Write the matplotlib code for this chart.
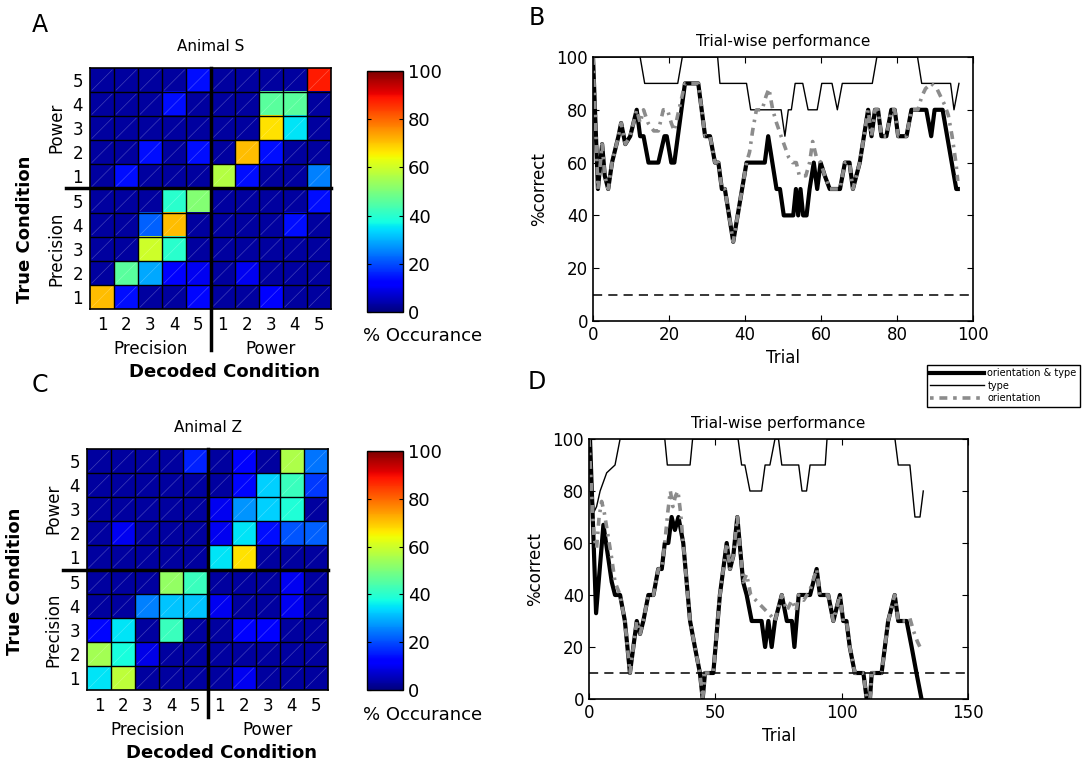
import numpy as np
import matplotlib
matplotlib.use('Agg')
import matplotlib.pyplot as plt
from matplotlib.lines import Line2D

plt.rcParams['font.family'] = ['DejaVu Sans']

# Confusion matrices (% occurance); rows from top: Power 5..1, Precision 5..1
# columns: Precision 1..5, Power 1..5
animal_s = [
    [3, 3, 3, 3, 14, 3, 3, 3, 3, 88],
    [3, 3, 3, 14, 3, 3, 3, 46, 46, 3],
    [3, 3, 3, 3, 3, 3, 3, 67, 35, 3],
    [3, 3, 14, 3, 14, 3, 71, 14, 3, 3],
    [3, 14, 3, 3, 3, 57, 14, 3, 3, 25],
    [3, 3, 3, 40, 51, 3, 3, 3, 3, 14],
    [3, 3, 22, 71, 3, 3, 3, 3, 14, 3],
    [3, 3, 60, 40, 3, 3, 3, 3, 3, 3],
    [3, 46, 29, 12, 10, 3, 10, 3, 3, 3],
    [71, 14, 3, 3, 13, 3, 3, 12, 3, 3],
]
animal_z = [
    [3, 3, 3, 3, 16, 3, 11, 3, 56, 24],
    [3, 3, 3, 3, 3, 3, 13, 33, 42, 18],
    [3, 3, 3, 3, 3, 10, 27, 33, 39, 3],
    [3, 10, 3, 3, 3, 10, 35, 14, 21, 22],
    [3, 3, 3, 3, 3, 35, 67, 3, 3, 3],
    [3, 3, 3, 53, 42, 3, 3, 3, 10, 3],
    [3, 3, 25, 32, 32, 10, 3, 3, 10, 3],
    [13, 35, 3, 42, 3, 3, 12, 12, 3, 3],
    [55, 38, 9, 3, 3, 3, 3, 3, 3, 3],
    [35, 58, 3, 3, 3, 3, 10, 3, 3, 3],
]
cond_labels = ['1', '2', '3', '4', '5', '1', '2', '3', '4', '5']

# Trial-wise performance, (trial, % correct) breakpoints
b_both = [(0, 100), (1.3, 50), (2.4, 67), (3.1, 55), (4, 50), (5, 60), (6.7, 70), (7.4, 75),
          (8.5, 67), (9.8, 70), (11.5, 80), (12.4, 70), (13.3, 70), (14.6, 60), (17.2, 60),
          (18.8, 70), (19.4, 70), (20.6, 60), (21.4, 60), (24.2, 90), (27.7, 90), (29.5, 70),
          (30.8, 70), (32.1, 60), (33, 60), (33.9, 50), (34.7, 50), (36.9, 30), (40.4, 60),
          (45.2, 60), (46.1, 70), (48.3, 50), (49.2, 50), (50.2, 40), (52.7, 40), (53.4, 50),
          (54, 40), (54.6, 50), (55.3, 40), (56.2, 40), (57, 50), (58.1, 60), (59, 50),
          (59.9, 60), (61, 55), (62.3, 50), (65, 50), (66.3, 60), (67.5, 60), (68.4, 50),
          (70.2, 60), (72.4, 80), (73.3, 70), (74.2, 80), (75, 80), (75.9, 70), (77.2, 70),
          (78.5, 80), (79.4, 80), (80.3, 70), (82.5, 70), (83.8, 80), (87.7, 80), (89, 70),
          (89.9, 80), (92, 80), (95.6, 50), (96, 50)]
b_type = [(0, 100), (12.4, 100), (13.6, 90), (22.3, 90), (23.5, 100), (32.8, 100), (33.4, 90),
          (40.4, 90), (41.5, 80), (49.5, 80), (50.5, 70), (51.4, 80), (52.2, 80), (53.2, 90),
          (55.2, 90), (56.6, 80), (59, 80), (60.2, 90), (62.9, 90), (64.3, 80), (65.6, 90),
          (73.5, 90), (74.7, 100), (85.4, 100), (86.5, 90), (94.1, 90), (95, 80), (96.3, 90)]
b_orient = [(0, 100), (1.3, 50), (2.4, 67), (3.1, 55), (4, 50), (5, 60), (6.7, 70), (7.4, 75),
            (8.5, 67), (9.8, 70), (11.5, 80), (12.4, 75), (13.3, 80), (14.5, 75), (16, 72),
            (17.2, 72), (18.5, 80), (19.6, 80), (20.6, 75), (21.4, 72), (22.3, 78), (24.2, 90),
            (27.7, 90), (29.5, 70), (30.8, 70), (32.1, 60), (33, 60), (33.9, 50), (34.7, 50),
            (36.9, 30), (40.4, 60), (41.2, 64), (42, 72), (43, 80), (44.5, 80), (45.5, 85),
            (46.3, 88), (47.3, 80), (48.3, 75), (49.5, 70), (50.5, 66), (51.5, 62), (52.5, 60),
            (53.5, 60), (54.3, 55), (56, 55), (57, 60), (57.8, 68), (58.8, 62), (59.9, 60),
            (61, 55), (62.3, 50), (65, 50), (66.3, 60), (67.5, 60), (68.4, 50), (70.2, 60),
            (72.4, 80), (73.3, 70), (74.2, 80), (75, 80), (75.9, 70), (77.2, 70), (78.5, 80),
            (79.4, 80), (80.3, 70), (82.5, 70), (83.8, 80), (85.5, 80), (86.5, 85), (87.5, 88),
            (89, 90), (90.5, 88), (91.5, 85), (92.5, 82), (93.5, 78), (94.5, 70), (95.5, 60),
            (96, 53)]

d_both = [(0.4, 100), (2.8, 33), (5.7, 67), (9, 45), (10.3, 40), (12.3, 40), (14.2, 30),
          (16.2, 10), (18.9, 30), (20.2, 25), (21.5, 30), (23.5, 40), (25.5, 40), (27.4, 50),
          (28.8, 50), (30, 60), (31.4, 60), (32.7, 70), (34, 65), (35.4, 70), (37.3, 60),
          (40, 30), (41.9, 20), (43.9, 10), (45, 0), (45.9, 10), (49.2, 10), (51.8, 40),
          (54.5, 60), (55.8, 50), (57.1, 55), (58.7, 70), (61, 45), (62.4, 40), (64.4, 30),
          (68.3, 30), (69.7, 20), (71, 30), (72.3, 20), (73.6, 30), (76.3, 40), (78.3, 30),
          (80.3, 30), (81.3, 20), (83, 40), (87.5, 40), (90.1, 50), (91.4, 40), (94.7, 40),
          (96.7, 30), (99.3, 40), (100.6, 30), (101.9, 30), (103.2, 20), (105.2, 10),
          (108.6, 10), (109.9, 0), (111.2, 0), (111.9, 10), (115.8, 10), (118.4, 30),
          (121, 40), (122.4, 30), (125.7, 30), (127.7, 20), (129.6, 10), (131.6, 0)]
d_type = [(0, 100), (1, 85), (2, 72), (3, 74), (4.4, 80), (7, 87), (10.3, 90), (12.3, 100),
          (30, 100), (31, 90), (40, 90), (41, 100), (59, 100), (60.4, 90), (61.7, 90),
          (63.7, 80), (68.3, 80), (69.7, 90), (71.6, 90), (73.6, 100), (75, 100), (76.3, 90),
          (83, 90), (84.3, 80), (86.1, 80), (87.5, 90), (93.5, 90), (94.2, 100), (121.1, 100),
          (122.4, 90), (127, 90), (129, 70), (131, 70), (132.3, 80)]
d_orient = [(0, 100), (1, 80), (2, 62), (3, 58), (4, 70), (5, 76), (6, 72), (7, 66), (8, 60),
            (9, 54), (10.3, 45), (12.3, 40), (14.2, 30), (16.2, 10), (18.9, 30), (20.2, 25),
            (21.5, 30), (23.5, 40), (25.5, 40), (27.4, 50), (28.8, 50), (30, 60), (31.2, 72),
            (32.2, 80), (33.2, 74), (34.2, 78), (35.2, 80), (36.2, 72), (37.3, 60), (40, 30),
            (41.9, 20), (43.9, 10), (45, 0), (45.9, 10), (49.2, 10), (51.8, 40), (54.5, 60),
            (55.8, 50), (57.1, 55), (58.7, 70), (61, 45), (62.4, 48), (64, 40), (66, 38),
            (68, 36), (70, 34), (72, 32), (73.6, 30), (76.3, 40), (78.3, 34), (80.3, 38),
            (82, 34), (83, 40), (85, 38), (87.5, 42), (90.1, 50), (91.4, 40), (94.7, 40),
            (96.7, 30), (99.3, 40), (100.6, 30), (101.9, 30), (103.2, 20), (105.2, 10),
            (108.6, 10), (109.9, 0), (111.2, 0), (111.9, 10), (115.8, 10), (118.4, 30),
            (121, 40), (122.4, 30), (125.7, 30), (127, 31), (128.5, 26), (130, 22), (131, 20)]
chance = 10

W, H = 1088, 762
fig = plt.figure(figsize=(W / 100, H / 100), dpi=100)


def px_axes(x0, y0, x1, y1):
    return fig.add_axes([x0 / W, 1 - y1 / H, (x1 - x0) / W, (y1 - y0) / H])


def confusion(ax, cax, mat, title, tc_x, tc_y, vline_len):
    m = np.array(mat, dtype=float)
    im = ax.imshow(m, cmap='jet', vmin=0, vmax=100, extent=(0, 10, 0, 10),
                   origin='upper', interpolation='nearest')
    # faint diagonal artefacts in each cell
    for i in range(10):
        for j in range(10):
            ax.plot([j + 0.08, j + 0.92], [i + 0.08, i + 0.92], color='white',
                    lw=0.5, alpha=0.25)
    for k in range(1, 10):
        ax.axvline(k, color='black', lw=1.0)
        ax.axhline(k, color='black', lw=1.0)
    ax.plot([5, 5], [10, -vline_len], color='black', lw=2.5, clip_on=False)
    ax.plot([-1, 10], [5, 5], color='black', lw=2.5, clip_on=False)
    ax.set_xlim(0, 10)
    ax.set_ylim(0, 10)
    ax.set_xticks(np.arange(10) + 0.5)
    ax.set_xticklabels(cond_labels)
    ax.set_yticks(np.arange(10) + 0.5)
    ax.set_yticklabels(cond_labels)
    ax.tick_params(length=0, labelsize=12, pad=5)
    for s in ax.spines.values():
        s.set_linewidth(1.2)
    ax.set_title(title, fontsize=11, pad=12)
    ax.text(2.5, -1.65, 'Precision', ha='center', va='center', fontsize=12)
    ax.text(7.5, -1.65, 'Power', ha='center', va='center', fontsize=12)
    ax.text(5.6, -2.6, 'Decoded Condition', ha='center', va='center', fontsize=13,
            fontweight='bold')
    ax.text(-1.4, 2.5, 'Precision', ha='center', va='center', rotation=90, fontsize=12)
    ax.text(-1.4, 7.5, 'Power', ha='center', va='center', rotation=90, fontsize=12)
    ax.text(tc_x, tc_y, 'True Condition', ha='center', va='center', rotation=90,
            fontsize=13, fontweight='bold')
    cb = fig.colorbar(im, cax=cax)
    cb.set_ticks([0, 20, 40, 60, 80, 100])
    cb.ax.tick_params(labelsize=13, direction='in', length=3, left=True, right=True)
    cb.outline.set_linewidth(1.0)
    return cb


def performance(ax, both, typ, orient, xmax, xticks, title):
    for series, kw in [(both, dict(color='black', lw=3.0)),
                       (typ, dict(color='black', lw=1.0)),
                       (orient, dict(color='#8c8c8c', lw=2.6,
                                     dashes=(2.2, 1.6, 0.7, 1.6)))]:
        t, v = zip(*series)
        ax.plot(t, v, **kw)
    ax.axhline(chance, color='black', lw=1.1, dashes=(6, 4))
    ax.set_xlim(0, xmax)
    ax.set_ylim(0, 100)
    ax.set_xticks(xticks)
    ax.set_yticks([0, 20, 40, 60, 80, 100])
    ax.tick_params(direction='in', top=True, right=True, labelsize=12, length=4)
    for s in ax.spines.values():
        s.set_linewidth(1.2)
    ax.set_title(title, fontsize=11, pad=8)
    ax.set_xlabel('Trial', fontsize=12, labelpad=4)
    ax.set_ylabel('%correct', fontsize=12, labelpad=6)


ax_a = px_axes(90, 68, 331, 309)
cax_a = px_axes(367, 71, 403, 312)
confusion(ax_a, cax_a, animal_s, 'Animal S', -2.7, 3.3, 1.7)
fig.text(423 / W, 1 - 336 / H, '% Occurance', ha='center', va='center', fontsize=13)

ax_c = px_axes(87, 449, 328, 690)
cax_c = px_axes(367, 451, 403, 690)
confusion(ax_c, cax_c, animal_z, 'Animal Z', -3.0, 4.5, 1.1)
fig.text(423 / W, 1 - 715 / H, '% Occurance', ha='center', va='center', fontsize=13)

ax_b = px_axes(593, 57, 973, 321)
performance(ax_b, b_both, b_type, b_orient, 100, [0, 20, 40, 60, 80, 100],
            'Trial-wise performance')

ax_d = px_axes(589, 439, 968, 699)
performance(ax_d, d_both, d_type, d_orient, 150, [0, 50, 100, 150],
            'Trial-wise performance')

handles = [Line2D([], [], color='black', lw=3.0),
           Line2D([], [], color='black', lw=1.0),
           Line2D([], [], color='#8c8c8c', lw=2.6, dashes=(1.0, 1.6, 2.2, 1.6))]
leg = fig.legend(handles, ['orientation & type', 'type', 'orientation'],
                 loc='upper right', bbox_to_anchor=(1085 / W, 1 - 360 / H),
                 fontsize=7, handlelength=5.5, handletextpad=0.4, labelspacing=0.25,
                 borderpad=0.35, fancybox=False, framealpha=1, edgecolor='black')
leg.get_frame().set_linewidth(1.0)

for letter, x, y in [('A', 40, 25), ('B', 537, 18), ('C', 40, 385), ('D', 537, 382)]:
    fig.text(x / W, 1 - y / H, letter, ha='center', va='center', fontsize=17)

fig.savefig('out.png', dpi=100)
